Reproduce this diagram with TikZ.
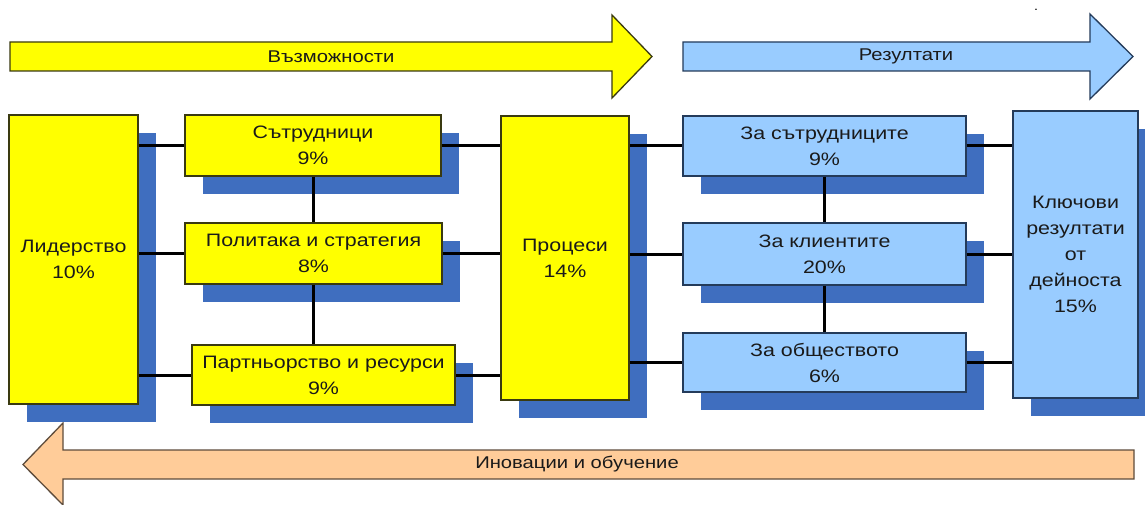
\documentclass[tikz,border=0pt]{standalone}
\usepackage{fontspec}
\setmainfont[FakeStretch=1.19]{Liberation Sans}
\usetikzlibrary{shadows}
\definecolor{yel}{HTML}{FFFF00}
\definecolor{yborder}{HTML}{3A3A10}
\definecolor{lblue}{HTML}{99CCFF}
\definecolor{bborder}{HTML}{243B5A}
\definecolor{shade}{HTML}{3F6EBF}
\definecolor{peach}{HTML}{FFCC99}
\definecolor{pborder}{HTML}{5E4C3C}
\definecolor{txt}{HTML}{1A1A1A}
\begin{document}
\begin{tikzpicture}[x=1pt,y=-1pt,
  basebox/.style={line width=1.4pt, align=center, inner sep=0pt, text=txt,
    font=\fontsize{18}{26}\selectfont,
    drop shadow={shadow xshift=18pt, shadow yshift=-18pt, fill=shade, opacity=1}},
  ybox/.style={basebox, draw=yborder, fill=yel},
  bbox/.style={basebox, draw=bborder, fill=lblue},
  conn/.style={line width=3pt, black},
  arrowshape/.style={line width=1.3pt, draw=#1},
  arrowtext/.style={font=\fontsize{17}{20}\selectfont, text=txt, inner sep=0pt}
]
\useasboundingbox (0,0) rectangle (1145,505);
\fill[white] (0,0) rectangle (1145,505);

% top arrows
\draw[arrowshape=yborder, fill=yel] (10,42) -- (612,42) -- (612,15) -- (652,56.5) -- (612,98) -- (612,71) -- (10,71) -- cycle;
\node[arrowtext] (opp) at (331,56.5) {Възможности};
\draw[arrowshape=bborder, fill=lblue] (683,42) -- (1090,42) -- (1090,14) -- (1133,56.5) -- (1090,99) -- (1090,71) -- (683,71) -- cycle;
\node[arrowtext] (res) at (906,56.5) {Резултати};
\node[font=\fontsize{12}{12}\selectfont, inner sep=0pt, anchor=base] (dot) at (1036,11) {.};

% bottom arrow
\draw[arrowshape=pborder, fill=peach] (1134,450) -- (63,450) -- (63,423) -- (23,464.5) -- (63,505) -- (63,479) -- (1134,479) -- cycle;
\node[arrowtext] (inn) at (577,464.5) {Иновации и обучение};

% enablers
\node[ybox, minimum width=129pt, minimum height=289pt] (lead) at (73.5,259.5) {Лидерство\\10\%};
\node[ybox, minimum width=256pt, minimum height=61pt] (sat) at (313,145.5) {Сътрудници\\9\%};
\node[ybox, minimum width=257pt, minimum height=61pt] (pol) at (313.5,253.5) {Политака и стратегия\\8\%};
\node[ybox, minimum width=263pt, minimum height=60pt] (part) at (323.5,375) {Партньорство и ресурси\\9\%};
\node[ybox, minimum width=128pt, minimum height=284pt] (proc) at (565,258) {Процеси\\14\%};

% results
\node[bbox, minimum width=283pt, minimum height=60pt] (r1) at (824.5,146) {За сътрудниците\\9\%};
\node[bbox, minimum width=283pt, minimum height=62pt] (r2) at (824.5,254) {За клиентите\\20\%};
\node[bbox, minimum width=283pt, minimum height=59pt] (r3) at (824.5,362.5) {За обществото\\6\%};
\node[bbox, minimum width=125pt, minimum height=287pt] (key) at (1075.5,254.5) {Ключови\\резултати\\от\\дейноста\\15\%};

% connectors
\draw[conn] (lead.east |- sat.west) -- (sat.west);
\draw[conn] (lead.east |- pol.west) -- (pol.west);
\draw[conn] (lead.east |- part.west) -- (part.west);
\draw[conn] (sat.south) -- (sat.south |- pol.north);
\draw[conn] (pol.south) -- (pol.south |- part.north);
\draw[conn] (sat.east) -- (sat.east -| proc.west);
\draw[conn] (pol.east) -- (pol.east -| proc.west);
\draw[conn] (part.east) -- (part.east -| proc.west);
\draw[conn] (proc.east |- r1.west) -- (r1.west);
\draw[conn] (proc.east |- r2.west) -- (r2.west);
\draw[conn] (proc.east |- r3.west) -- (r3.west);
\draw[conn] (r1.south) -- (r1.south |- r2.north);
\draw[conn] (r2.south) -- (r2.south |- r3.north);
\draw[conn] (r1.east) -- (r1.east -| key.west);
\draw[conn] (r2.east) -- (r2.east -| key.west);
\draw[conn] (r3.east) -- (r3.east -| key.west);
\end{tikzpicture}
\end{document}
